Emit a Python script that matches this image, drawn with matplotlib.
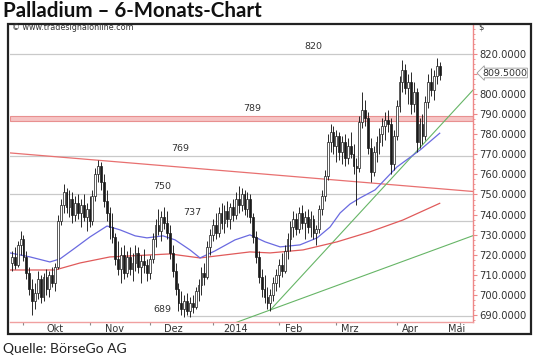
import numpy as np
import pandas as pd
import matplotlib
matplotlib.use("Agg")
import matplotlib.pyplot as plt
from matplotlib.patches import Rectangle

# daily candles, palladium, 25.09.2013 - 21.04.2014
opens = [716, 719, 715, 725, 728, 719, 711, 703, 697, 701, 708, 699, 709, 703, 710, 706, 714, 737, 745, 751,
         744, 748, 740, 746, 741, 745, 739, 743, 737, 749, 760, 764, 756, 747, 741, 734, 729, 718, 713, 720,
         711, 719, 713, 716, 721, 714, 717, 715, 711, 718, 728, 735, 732, 739, 736, 731, 721, 712, 703, 696,
         693, 697, 692, 696, 694, 702, 705, 711, 709, 724, 730, 735, 731, 741, 736, 742, 738, 744, 740, 748,
         745, 750, 743, 748, 739, 729, 719, 709, 703, 699, 696, 700, 706, 710, 715, 712, 722, 728, 734, 738,
         733, 741, 736, 739, 734, 738, 731, 733, 743, 749, 759, 776, 781, 774, 779, 771, 776, 768, 774, 770,
         764, 763, 786, 792, 788, 773, 761, 771, 776, 780, 784, 787, 785, 765, 779, 794, 806, 812, 803, 806,
         795, 801, 776, 785, 779, 796, 806, 802, 809, 814]
highs = [722, 724, 727, 732, 730, 722, 714, 708, 706, 712, 710, 711, 713, 712, 714, 716, 740, 748, 755, 753,
         752, 751, 749, 750, 748, 750, 746, 749, 752, 763, 767, 766, 760, 752, 744, 741, 731, 727, 724, 725,
         722, 724, 721, 725, 724, 720, 723, 718, 720, 731, 738, 743, 742, 744, 742, 735, 725, 716, 706, 702,
         700, 701, 699, 700, 704, 708, 714, 716, 727, 733, 738, 741, 744, 746, 745, 747, 746, 748, 751, 754,
         753, 752, 751, 750, 741, 732, 722, 713, 710, 704, 703, 709, 713, 718, 721, 725, 731, 737, 742, 741,
         744, 745, 742, 743, 742, 740, 735, 745, 752, 762, 780, 785, 784, 782, 781, 779, 780, 778, 781, 775,
         768, 789, 801, 797, 791, 778, 774, 779, 783, 788, 791, 792, 788, 782, 797, 809, 817, 815, 810, 811,
         806, 803, 788, 790, 799, 810, 813, 812, 818, 816]
lows = [712, 713, 714, 720, 717, 708, 700, 690, 693, 698, 696, 697, 700, 699, 704, 702, 713, 735, 741, 741,
        739, 736, 737, 738, 734, 737, 732, 734, 735, 747, 756, 752, 744, 737, 728, 726, 715, 710, 706, 708,
        709, 710, 707, 712, 711, 706, 711, 707, 708, 716, 724, 730, 727, 733, 728, 718, 709, 700, 692, 690,
        689, 690, 689, 691, 693, 697, 700, 705, 708, 720, 727, 728, 729, 733, 731, 734, 733, 737, 738, 741,
        742, 740, 739, 736, 726, 716, 706, 699, 696, 693, 692, 697, 702, 704, 709, 711, 718, 722, 729, 730,
        731, 733, 728, 731, 729, 728, 725, 731, 740, 747, 757, 771, 770, 766, 767, 765, 764, 765, 768, 760,
        745, 761, 783, 784, 770, 756, 759, 766, 770, 774, 777, 781, 760, 762, 777, 791, 801, 800, 795, 790,
        791, 771, 773, 775, 777, 793, 799, 797, 805, 807]
closes = [719, 715, 725, 728, 719, 711, 703, 697, 701, 708, 699, 709, 703, 710, 706, 714, 737, 745, 751, 744,
          748, 740, 746, 741, 745, 739, 743, 737, 749, 760, 764, 756, 747, 741, 734, 729, 718, 713, 720, 711,
          719, 713, 716, 721, 714, 717, 715, 711, 718, 728, 735, 732, 739, 736, 731, 721, 712, 703, 696, 693,
          697, 692, 696, 694, 702, 705, 711, 709, 724, 730, 735, 731, 741, 736, 742, 738, 744, 740, 748, 745,
          750, 743, 748, 739, 729, 719, 709, 703, 699, 696, 700, 706, 710, 715, 712, 722, 728, 734, 738, 733,
          741, 736, 739, 734, 738, 731, 733, 743, 749, 759, 776, 781, 774, 779, 771, 776, 768, 774, 770, 764,
          763, 786, 792, 788, 773, 761, 771, 776, 780, 784, 787, 785, 765, 779, 794, 806, 812, 803, 806, 795,
          801, 776, 785, 779, 796, 806, 802, 809, 814, 809.5]

# gleitende durchschnitte (stuetzpunkte: bar-index, wert)
ma_blue_idx = [-0.7, 6.3, 13.2, 16.7, 22, 27.2, 33.1, 37.6, 42.9, 47, 52.6, 56.8, 62, 65.5, 70.7, 77.7, 82.9,
               88.2, 93.4, 100.3, 106.3, 110.8, 114.3, 117.8, 121.3, 126.5, 134.1, 142.2, 149]
ma_blue_val = [720.9, 718.9, 716.4, 717.9, 723.4, 728.9, 734.3, 732.4, 729.4, 728.4, 729.4, 727.4, 722.4,
               718.4, 721.9, 727.4, 729.9, 726.4, 723.9, 724.9, 728.4, 733.8, 740.8, 745.3, 748.3, 752.3,
               763.7, 772.2, 780.5]
ma_red_idx = [-0.7, 15, 23.7, 34.1, 55, 65.5, 82.9, 89.9, 101.4, 113.2, 124.7, 136.2, 149]
ma_red_val = [712.4, 712.4, 715.9, 718.9, 720.4, 718.4, 721.4, 720.9, 722.4, 726.4, 731.4, 737.3, 745.6]

# trendlinien
down_trend = [(-0.7, 770.7), (160.6, 751.5)]
up_steep = [(90, 692.5), (160.6, 802)]
up_flat = [(60, 676.8), (160.6, 729.5)]

# marken
levels = [820, 769, 750, 737]
level_labels = [("820", 105, 820), ("789", 83.6, 789), ("769", 58.5, 769),
                ("750", 52.3, 750), ("737", 62.7, 737), ("689", 52.3, 689)]
band = (786.6, 789.1)
low_line = (61, 689.5)
last_price = 809.5

month_names = ["Okt", "Nov", "Dez", "2014", "Feb", "Mrz", "Apr", "Mai"]
month_label_px = [55, 114, 173, 236, 294, 350, 410, 457]

plt.rcParams['font.family'] = ['DejaVu Sans']

fig = plt.figure(figsize=(5.4, 3.63), dpi=100)
W, H = 540.0, 363.0

# rahmen
fig.patches.append(Rectangle((8 / W, 1 - 334 / H), 523 / W, 310 / H, transform=fig.transFigure,
                             fill=False, edgecolor='#222222', linewidth=1.6))

ax = fig.add_axes([10 / W, 1 - 322 / H, 463 / W, 298 / H])
x0, x1 = -0.7, 160.6
ax.set_xlim(x0, x1)
ax.set_ylim(686.5, 834.9)


def px2i(px):
    return (px - 12) / 2.87


# linien im hintergrund
for lv in levels:
    ax.axhline(lv, color='#c9c9c9', lw=0.9, zorder=1)
ax.plot([low_line[0], x1], [low_line[1], low_line[1]], color='#c9c9c9', lw=0.9, zorder=1)
ax.axhspan(band[0], band[1], facecolor='#f6c4c4', edgecolor='#e89090', lw=0.8, zorder=1)

ax.plot(*zip(*down_trend), color='#e87070', lw=0.9, zorder=2)
ax.plot(*zip(*up_steep), color='#66b566', lw=0.8, zorder=2)
ax.plot(*zip(*up_flat), color='#66b566', lw=0.8, zorder=2)
ax.plot(ma_red_idx, ma_red_val, color='#e05a5a', lw=0.9, zorder=2)
ax.plot(ma_blue_idx, ma_blue_val, color='#6a6ae0', lw=0.9, zorder=2)

# kerzen
idx = np.arange(len(closes))
o = np.array(opens, float)
c = np.array(closes, float)
ax.vlines(idx, lows, highs, color='#1a1a1a', lw=0.65, zorder=3)
body_lo = np.minimum(o, c)
body_h = np.maximum(np.abs(c - o), 0.4)
fc = ['white' if cc >= oo else '#1a1a1a' for oo, cc in zip(o, c)]
ax.bar(idx, body_h, bottom=body_lo, width=0.62, color=fc, edgecolor='#1a1a1a', linewidth=0.5, zorder=4)

for txt, xi, yv in level_labels:
    ax.text(xi, yv + 1.6, txt, ha='center', va='bottom', fontsize=6.8, color='#333333')

# achsen
for s in ['top', 'left']:
    ax.spines[s].set_visible(False)
ax.spines['right'].set_color('#ee8888')
ax.spines['bottom'].set_color('#f0a0a0')
ax.spines['right'].set_linewidth(1.0)
ax.spines['bottom'].set_linewidth(1.0)

ax.yaxis.tick_right()
yt = np.arange(690, 821, 10)
ax.set_yticks(yt)
ax.set_yticklabels(["%.4f" % v for v in yt])
ax.set_yticks(np.arange(687.5, 834, 2.5), minor=True)
ax.tick_params(axis='y', which='major', length=3, color='#ee8888', labelsize=7.2, labelcolor='#333333', pad=1.5)
ax.tick_params(axis='y', which='minor', length=1.5, color='#ee8888', labelright=False, labelleft=False)

dates = pd.bdate_range('2013-09-25', periods=175)
starts = [i for i in range(1, len(dates)) if dates[i].month != dates[i - 1].month]
ax.set_xticks(starts)
ax.set_xticklabels([])
ax.set_xticks([px2i(p) for p in month_label_px], minor=True)
ax.set_xticklabels(month_names, minor=True)
ax.tick_params(axis='x', which='major', length=2, color='#888888')
ax.tick_params(axis='x', which='minor', length=0, labelsize=7, labelcolor='#333333', pad=1.5)

# letzter kurs als kleine fahne an der preisachse
fig.text(482 / W, 1 - 73 / H, "%.4f" % last_price, fontsize=6.8, color='#333333', va='center', ha='left',
         bbox=dict(boxstyle='larrow,pad=0.04', fc='white', ec='#999999', lw=0.6), zorder=5)

fig.text(478 / W, 1 - 27 / H, "$", fontsize=6, color='#333333', va='center', ha='left')
fig.text(12 / W, 1 - 28 / H, "\u00a9 www.tradesignalonline.com", fontsize=5.8, color='#333333',
         va='center', ha='left')

fig.text(3 / W, 1 - 11 / H, "Palladium \u2013 6-Monats-Chart", fontsize=14.8, fontweight='bold',
         family=['Lato', 'DejaVu Sans'], color='#111111', va='center', ha='left')
fig.text(3 / W, 1 - 349 / H, "Quelle: B\u00f6rseGo AG", fontsize=10, family=['Lato', 'DejaVu Sans'],
         color='#222222', va='center', ha='left')

fig.savefig("out.png", dpi=100)
